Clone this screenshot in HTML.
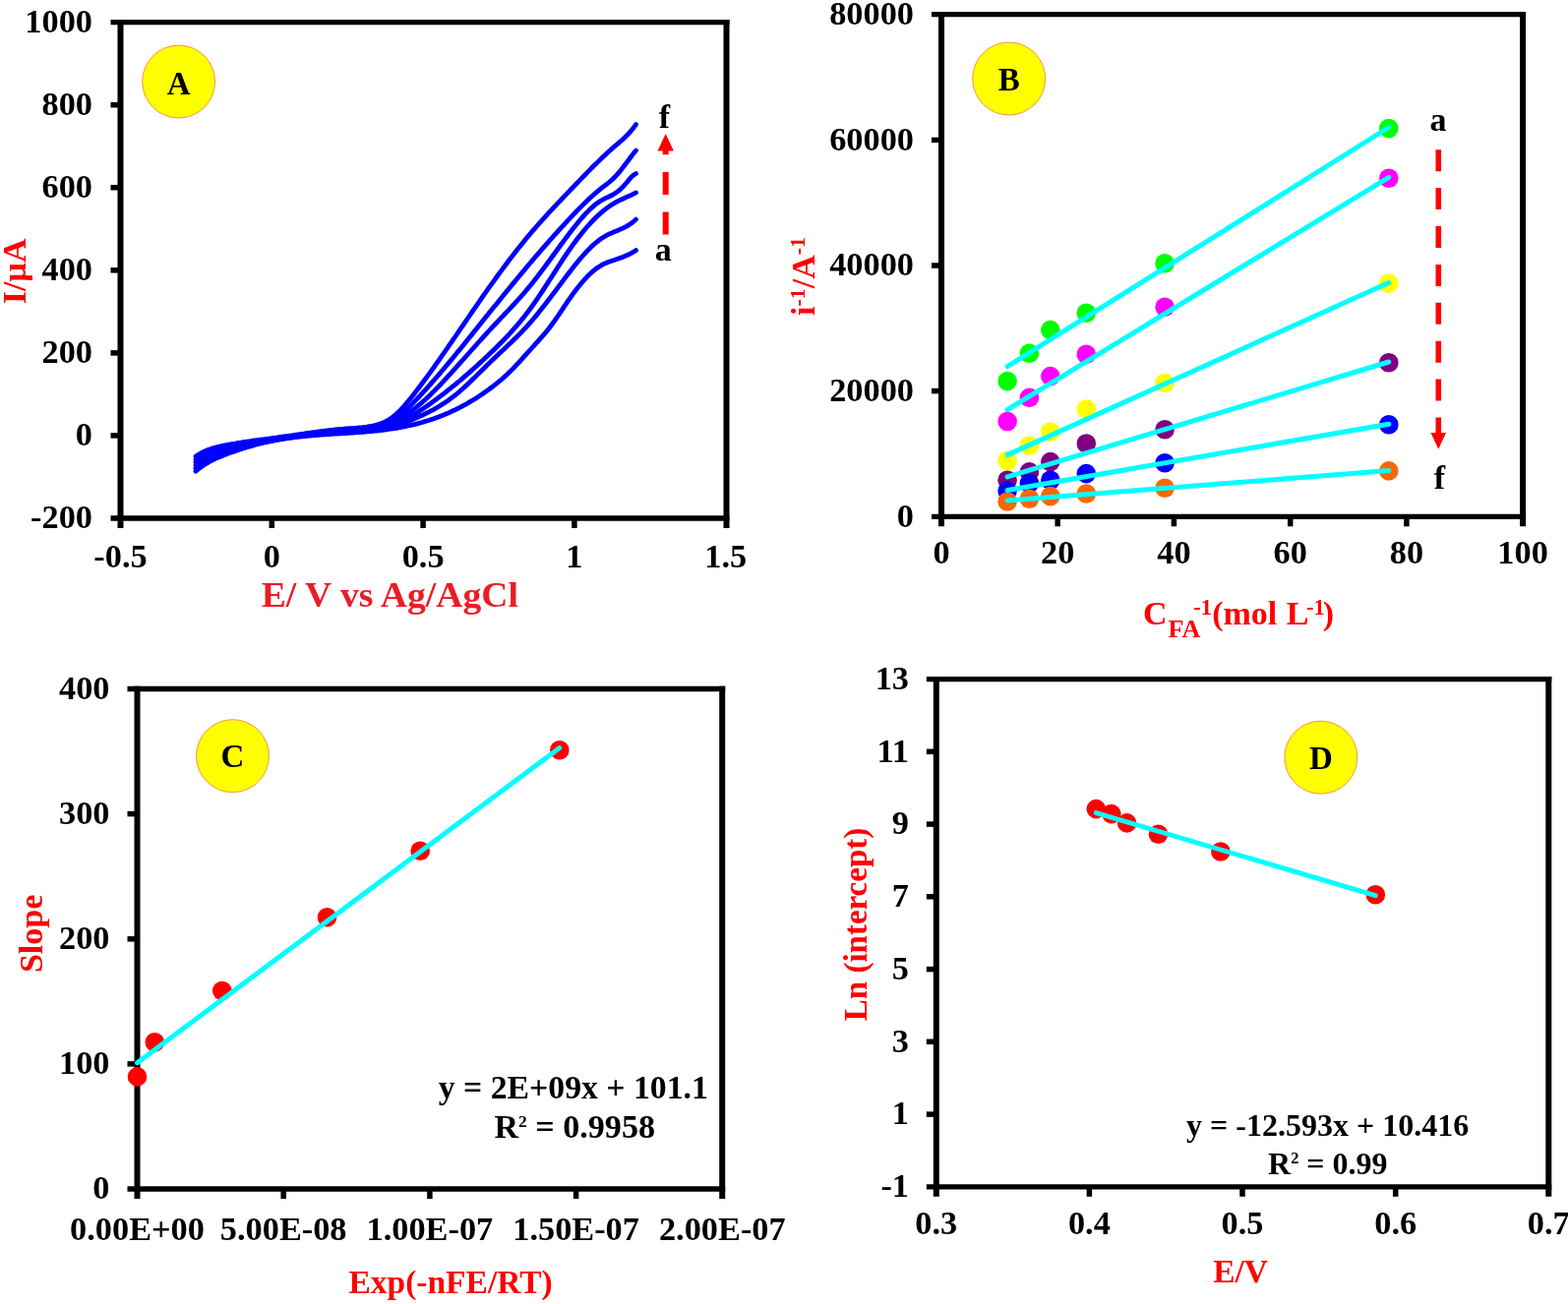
<!DOCTYPE html>
<html><head><meta charset="utf-8"><title>Figure</title>
<style>html,body{margin:0;padding:0;background:#fff;}svg{display:block;}</style></head>
<body><svg width="1594" height="1326" viewBox="0 0 1594 1326" font-family="'Liberation Serif', 'Times New Roman', serif" font-weight="bold">
<rect width="1594" height="1326" fill="#fff"/>
<line x1="112.5" y1="22.7" x2="741.5" y2="22.7" stroke="#000" stroke-width="5.3"/>
<line x1="112.5" y1="527" x2="741.5" y2="527" stroke="#000" stroke-width="5.3"/>
<line x1="122.5" y1="20.05" x2="122.5" y2="537" stroke="#000" stroke-width="6.0"/>
<line x1="738.5" y1="20.05" x2="738.5" y2="537" stroke="#000" stroke-width="6.0"/>
<line x1="276.3" y1="527" x2="276.3" y2="537" stroke="#000" stroke-width="5.5"/>
<line x1="430.1" y1="527" x2="430.1" y2="537" stroke="#000" stroke-width="5.5"/>
<line x1="583.9" y1="527" x2="583.9" y2="537" stroke="#000" stroke-width="5.5"/>
<line x1="112.5" y1="442.9" x2="122.5" y2="442.9" stroke="#000" stroke-width="5.5"/>
<line x1="112.5" y1="358.9" x2="122.5" y2="358.9" stroke="#000" stroke-width="5.5"/>
<line x1="112.5" y1="274.8" x2="122.5" y2="274.8" stroke="#000" stroke-width="5.5"/>
<line x1="112.5" y1="190.7" x2="122.5" y2="190.7" stroke="#000" stroke-width="5.5"/>
<line x1="112.5" y1="106.7" x2="122.5" y2="106.7" stroke="#000" stroke-width="5.5"/>
<text x="94" y="537.3" text-anchor="end" font-size="33" transform="matrix(1.04,0,0,1,-3.76,0)">-200</text>
<text x="94" y="453.2" text-anchor="end" font-size="33" transform="matrix(1.04,0,0,1,-3.76,0)">0</text>
<text x="94" y="369.2" text-anchor="end" font-size="33" transform="matrix(1.04,0,0,1,-3.76,0)">200</text>
<text x="94" y="285.1" text-anchor="end" font-size="33" transform="matrix(1.04,0,0,1,-3.76,0)">400</text>
<text x="94" y="201.0" text-anchor="end" font-size="33" transform="matrix(1.04,0,0,1,-3.76,0)">600</text>
<text x="94" y="117.0" text-anchor="end" font-size="33" transform="matrix(1.04,0,0,1,-3.76,0)">800</text>
<text x="94" y="32.9" text-anchor="end" font-size="33" transform="matrix(1.04,0,0,1,-3.76,0)">1000</text>
<text x="122.5" y="577" text-anchor="middle" font-size="33" transform="matrix(1.04,0,0,1,-4.90,0)">-0.5</text>
<text x="276.3" y="577" text-anchor="middle" font-size="33" transform="matrix(1.04,0,0,1,-11.05,0)">0</text>
<text x="430.1" y="577" text-anchor="middle" font-size="33" transform="matrix(1.04,0,0,1,-17.20,0)">0.5</text>
<text x="583.9" y="577" text-anchor="middle" font-size="33" transform="matrix(1.04,0,0,1,-23.36,0)">1</text>
<text x="737.7" y="577" text-anchor="middle" font-size="33" transform="matrix(1.04,0,0,1,-29.51,0)">1.5</text>
<path d="M199.0,464.1 L201.0,462.7 L203.0,461.5 L205.0,460.4 L207.0,459.4 L209.0,458.5 L211.0,457.6 L213.0,456.9 L215.0,456.2 L217.0,455.6 L219.0,455.0 L221.0,454.5 L223.0,454.0 L225.0,453.6 L227.0,453.2 L229.0,452.8 L231.0,452.4 L233.0,452.0 L235.0,451.7 L237.0,451.3 L239.0,451.0 L241.0,450.6 L243.0,450.3 L245.0,450.0 L247.0,449.7 L249.0,449.4 L251.0,449.1 L253.0,448.8 L255.0,448.5 L257.0,448.2 L259.0,447.9 L261.0,447.6 L263.0,447.4 L265.0,447.1 L267.0,446.8 L269.0,446.6 L271.0,446.3 L273.0,446.1 L275.0,445.8 L277.0,445.5 L279.0,445.3 L281.0,445.0 L283.0,444.7 L285.0,444.5 L287.0,444.2 L289.0,443.9 L291.0,443.6 L293.0,443.4 L295.0,443.1 L297.0,442.8 L299.0,442.5 L301.0,442.2 L303.0,441.9 L305.0,441.6 L307.0,441.3 L309.0,441.0 L311.0,440.7 L313.0,440.5 L315.0,440.2 L317.0,439.9 L319.0,439.6 L321.0,439.3 L323.0,439.0 L325.0,438.8 L327.0,438.5 L329.0,438.3 L331.0,438.0 L333.0,437.8 L335.0,437.5 L337.0,437.3 L339.0,437.1 L341.0,436.9 L343.0,436.7 L345.0,436.5 L347.0,436.3 L349.0,436.2 L351.0,436.0 L353.0,435.9 L355.0,435.7 L357.0,435.6 L359.0,435.5 L361.0,435.3 L363.0,435.2 L365.0,435.0 L367.0,434.8 L369.0,434.6 L371.0,434.3 L373.0,434.1 L375.0,433.7 L377.0,433.4 L379.0,433.0 L381.0,432.5 L383.0,432.0 L385.0,431.4 L387.0,430.7 L389.0,430.0 L391.0,429.1 L393.0,428.1 L395.0,427.0 L397.0,425.7 L399.0,424.3 L401.0,422.7 L403.0,421.0 L405.0,419.1 L407.0,417.1 L409.0,415.0 L411.0,412.8 L413.0,410.4 L415.0,408.0 L417.0,405.6 L419.0,403.0 L421.0,400.5 L423.0,397.9 L425.0,395.3 L427.0,392.7 L429.0,390.0 L431.0,387.3 L433.0,384.6 L435.0,381.9 L437.0,379.1 L439.0,376.3 L441.0,373.6 L443.0,370.7 L445.0,367.9 L447.0,365.1 L449.0,362.2 L451.0,359.4 L453.0,356.5 L455.0,353.6 L457.0,350.7 L459.0,347.8 L461.0,344.9 L463.0,342.0 L465.0,339.1 L467.0,336.1 L469.0,333.2 L471.0,330.3 L473.0,327.4 L475.0,324.5 L477.0,321.5 L479.0,318.6 L481.0,315.7 L483.0,312.8 L485.0,309.9 L487.0,307.0 L489.0,304.1 L491.0,301.2 L493.0,298.4 L495.0,295.5 L497.0,292.7 L499.0,289.9 L501.0,287.1 L503.0,284.3 L505.0,281.5 L507.0,278.8 L509.0,276.1 L511.0,273.4 L513.0,270.7 L515.0,268.0 L517.0,265.3 L519.0,262.7 L521.0,260.1 L523.0,257.5 L525.0,255.0 L527.0,252.4 L529.0,249.9 L531.0,247.4 L533.0,245.0 L535.0,242.5 L537.0,240.1 L539.0,237.7 L541.0,235.4 L543.0,233.1 L545.0,230.8 L547.0,228.5 L549.0,226.2 L551.0,224.0 L553.0,221.8 L555.0,219.6 L557.0,217.4 L559.0,215.2 L561.0,213.1 L563.0,211.0 L565.0,208.8 L567.0,206.7 L569.0,204.6 L571.0,202.5 L573.0,200.4 L575.0,198.3 L577.0,196.2 L579.0,194.1 L581.0,192.0 L583.0,189.9 L585.0,187.8 L587.0,185.8 L589.0,183.7 L591.0,181.6 L593.0,179.5 L595.0,177.5 L597.0,175.4 L599.0,173.4 L601.0,171.3 L603.0,169.3 L605.0,167.3 L607.0,165.4 L609.0,163.4 L611.0,161.5 L613.0,159.6 L615.0,157.7 L617.0,155.8 L619.0,154.0 L621.0,152.2 L623.0,150.4 L625.0,148.7 L627.0,147.0 L629.0,145.3 L631.0,143.5 L633.0,141.8 L635.0,139.9 L637.0,137.9 L639.0,135.9 L641.0,133.6 L643.0,131.2 L645.0,128.6 L646.5,126.6" fill="none" stroke="#0000FF" stroke-width="4.8" stroke-linecap="round" stroke-linejoin="round"/>
<path d="M199.0,467.1 L201.0,465.7 L203.0,464.4 L205.0,463.2 L207.0,462.1 L209.0,461.1 L211.0,460.2 L213.0,459.4 L215.0,458.6 L217.0,457.9 L219.0,457.3 L221.0,456.7 L223.0,456.2 L225.0,455.6 L227.0,455.2 L229.0,454.7 L231.0,454.2 L233.0,453.8 L235.0,453.3 L237.0,452.9 L239.0,452.5 L241.0,452.1 L243.0,451.7 L245.0,451.3 L247.0,450.9 L249.0,450.6 L251.0,450.2 L253.0,449.9 L255.0,449.5 L257.0,449.2 L259.0,448.9 L261.0,448.5 L263.0,448.2 L265.0,447.9 L267.0,447.6 L269.0,447.3 L271.0,447.0 L273.0,446.7 L275.0,446.4 L277.0,446.1 L279.0,445.8 L281.0,445.5 L283.0,445.3 L285.0,445.0 L287.0,444.7 L289.0,444.4 L291.0,444.1 L293.0,443.9 L295.0,443.6 L297.0,443.3 L299.0,443.0 L301.0,442.7 L303.0,442.5 L305.0,442.2 L307.0,441.9 L309.0,441.6 L311.0,441.4 L313.0,441.1 L315.0,440.8 L317.0,440.6 L319.0,440.3 L321.0,440.0 L323.0,439.8 L325.0,439.5 L327.0,439.3 L329.0,439.1 L331.0,438.8 L333.0,438.6 L335.0,438.4 L337.0,438.1 L339.0,437.9 L341.0,437.7 L343.0,437.5 L345.0,437.3 L347.0,437.1 L349.0,437.0 L351.0,436.8 L353.0,436.6 L355.0,436.4 L357.0,436.3 L359.0,436.1 L361.0,436.0 L363.0,435.8 L365.0,435.6 L367.0,435.4 L369.0,435.2 L371.0,435.0 L373.0,434.8 L375.0,434.5 L377.0,434.3 L379.0,434.0 L381.0,433.6 L383.0,433.3 L385.0,432.9 L387.0,432.4 L389.0,431.9 L391.0,431.3 L393.0,430.6 L395.0,429.8 L397.0,428.9 L399.0,427.8 L401.0,426.6 L403.0,425.2 L405.0,423.8 L407.0,422.2 L409.0,420.5 L411.0,418.7 L413.0,416.8 L415.0,414.9 L417.0,412.9 L419.0,410.8 L421.0,408.7 L423.0,406.6 L425.0,404.5 L427.0,402.4 L429.0,400.2 L431.0,398.0 L433.0,395.8 L435.0,393.6 L437.0,391.4 L439.0,389.1 L441.0,386.8 L443.0,384.5 L445.0,382.2 L447.0,379.9 L449.0,377.5 L451.0,375.2 L453.0,372.8 L455.0,370.4 L457.0,368.0 L459.0,365.6 L461.0,363.2 L463.0,360.8 L465.0,358.3 L467.0,355.9 L469.0,353.4 L471.0,351.0 L473.0,348.5 L475.0,346.0 L477.0,343.5 L479.0,341.1 L481.0,338.6 L483.0,336.1 L485.0,333.6 L487.0,331.1 L489.0,328.6 L491.0,326.1 L493.0,323.6 L495.0,321.1 L497.0,318.6 L499.0,316.1 L501.0,313.6 L503.0,311.2 L505.0,308.7 L507.0,306.2 L509.0,303.7 L511.0,301.3 L513.0,298.8 L515.0,296.4 L517.0,293.9 L519.0,291.5 L521.0,289.0 L523.0,286.6 L525.0,284.2 L527.0,281.8 L529.0,279.4 L531.0,277.0 L533.0,274.6 L535.0,272.2 L537.0,269.8 L539.0,267.5 L541.0,265.1 L543.0,262.7 L545.0,260.4 L547.0,258.1 L549.0,255.8 L551.0,253.4 L553.0,251.1 L555.0,248.9 L557.0,246.6 L559.0,244.3 L561.0,242.1 L563.0,239.8 L565.0,237.6 L567.0,235.4 L569.0,233.2 L571.0,231.0 L573.0,228.8 L575.0,226.6 L577.0,224.5 L579.0,222.3 L581.0,220.2 L583.0,218.1 L585.0,216.0 L587.0,213.9 L589.0,211.9 L591.0,209.9 L593.0,207.9 L595.0,205.9 L597.0,204.0 L599.0,202.1 L601.0,200.3 L603.0,198.5 L605.0,196.7 L607.0,195.0 L609.0,193.3 L611.0,191.7 L613.0,190.1 L615.0,188.6 L617.0,187.1 L619.0,185.5 L621.0,183.8 L623.0,182.0 L625.0,180.0 L627.0,177.9 L629.0,175.6 L631.0,173.2 L633.0,170.6 L635.0,168.0 L637.0,165.4 L639.0,162.7 L641.0,160.0 L643.0,157.4 L645.0,154.8 L646.5,153.0" fill="none" stroke="#0000FF" stroke-width="4.8" stroke-linecap="round" stroke-linejoin="round"/>
<path d="M199.0,470.1 L201.0,468.7 L203.0,467.3 L205.0,466.0 L207.0,464.9 L209.0,463.8 L211.0,462.8 L213.0,461.9 L215.0,461.0 L217.0,460.2 L219.0,459.5 L221.0,458.8 L223.0,458.1 L225.0,457.5 L227.0,457.0 L229.0,456.4 L231.0,455.8 L233.0,455.3 L235.0,454.8 L237.0,454.3 L239.0,453.9 L241.0,453.4 L243.0,453.0 L245.0,452.5 L247.0,452.1 L249.0,451.7 L251.0,451.3 L253.0,450.9 L255.0,450.6 L257.0,450.2 L259.0,449.9 L261.0,449.5 L263.0,449.2 L265.0,448.9 L267.0,448.5 L269.0,448.2 L271.0,447.9 L273.0,447.6 L275.0,447.3 L277.0,447.0 L279.0,446.7 L281.0,446.4 L283.0,446.1 L285.0,445.8 L287.0,445.5 L289.0,445.1 L291.0,444.8 L293.0,444.5 L295.0,444.2 L297.0,443.9 L299.0,443.6 L301.0,443.2 L303.0,442.9 L305.0,442.6 L307.0,442.3 L309.0,442.0 L311.0,441.7 L313.0,441.4 L315.0,441.1 L317.0,440.8 L319.0,440.5 L321.0,440.2 L323.0,439.9 L325.0,439.7 L327.0,439.4 L329.0,439.2 L331.0,439.0 L333.0,438.7 L335.0,438.5 L337.0,438.4 L339.0,438.2 L341.0,438.0 L343.0,437.9 L345.0,437.8 L347.0,437.6 L349.0,437.5 L351.0,437.5 L353.0,437.4 L355.0,437.4 L357.0,437.3 L359.0,437.3 L361.0,437.3 L363.0,437.2 L365.0,437.2 L367.0,437.1 L369.0,437.0 L371.0,436.8 L373.0,436.7 L375.0,436.4 L377.0,436.2 L379.0,435.9 L381.0,435.5 L383.0,435.1 L385.0,434.6 L387.0,434.1 L389.0,433.5 L391.0,432.8 L393.0,432.1 L395.0,431.3 L397.0,430.5 L399.0,429.6 L401.0,428.7 L403.0,427.6 L405.0,426.6 L407.0,425.5 L409.0,424.3 L411.0,423.0 L413.0,421.7 L415.0,420.4 L417.0,419.0 L419.0,417.5 L421.0,416.0 L423.0,414.4 L425.0,412.7 L427.0,411.0 L429.0,409.3 L431.0,407.5 L433.0,405.7 L435.0,403.8 L437.0,401.9 L439.0,399.9 L441.0,397.9 L443.0,395.9 L445.0,393.9 L447.0,391.8 L449.0,389.7 L451.0,387.5 L453.0,385.4 L455.0,383.2 L457.0,381.0 L459.0,378.8 L461.0,376.6 L463.0,374.4 L465.0,372.2 L467.0,369.9 L469.0,367.7 L471.0,365.5 L473.0,363.2 L475.0,361.0 L477.0,358.7 L479.0,356.5 L481.0,354.2 L483.0,352.0 L485.0,349.7 L487.0,347.5 L489.0,345.3 L491.0,343.1 L493.0,340.9 L495.0,338.7 L497.0,336.5 L499.0,334.3 L501.0,332.2 L503.0,330.1 L505.0,328.0 L507.0,325.8 L509.0,323.7 L511.0,321.6 L513.0,319.5 L515.0,317.4 L517.0,315.3 L519.0,313.2 L521.0,311.0 L523.0,308.9 L525.0,306.7 L527.0,304.5 L529.0,302.2 L531.0,300.0 L533.0,297.7 L535.0,295.3 L537.0,292.9 L539.0,290.5 L541.0,288.1 L543.0,285.5 L545.0,283.0 L547.0,280.4 L549.0,277.8 L551.0,275.1 L553.0,272.4 L555.0,269.7 L557.0,267.0 L559.0,264.3 L561.0,261.5 L563.0,258.8 L565.0,256.0 L567.0,253.3 L569.0,250.5 L571.0,247.8 L573.0,245.1 L575.0,242.4 L577.0,239.7 L579.0,237.1 L581.0,234.5 L583.0,231.9 L585.0,229.4 L587.0,226.9 L589.0,224.5 L591.0,222.2 L593.0,219.9 L595.0,217.7 L597.0,215.6 L599.0,213.6 L601.0,211.7 L603.0,209.9 L605.0,208.2 L607.0,206.7 L609.0,205.3 L611.0,204.0 L613.0,202.9 L615.0,201.8 L617.0,200.9 L619.0,200.0 L621.0,199.0 L623.0,198.0 L625.0,196.8 L627.0,195.4 L629.0,193.8 L631.0,192.1 L633.0,190.2 L635.0,188.0 L637.0,185.7 L639.0,183.2 L641.0,180.9 L643.0,178.9 L645.0,177.3 L646.5,176.6" fill="none" stroke="#0000FF" stroke-width="4.8" stroke-linecap="round" stroke-linejoin="round"/>
<path d="M199.0,473.1 L201.0,471.6 L203.0,470.2 L205.0,468.8 L207.0,467.6 L209.0,466.5 L211.0,465.4 L213.0,464.4 L215.0,463.5 L217.0,462.6 L219.0,461.8 L221.0,461.1 L223.0,460.4 L225.0,459.7 L227.0,459.1 L229.0,458.4 L231.0,457.8 L233.0,457.2 L235.0,456.6 L237.0,456.0 L239.0,455.5 L241.0,455.0 L243.0,454.4 L245.0,453.9 L247.0,453.4 L249.0,452.9 L251.0,452.4 L253.0,452.0 L255.0,451.5 L257.0,451.1 L259.0,450.7 L261.0,450.2 L263.0,449.8 L265.0,449.4 L267.0,449.1 L269.0,448.7 L271.0,448.3 L273.0,448.0 L275.0,447.6 L277.0,447.3 L279.0,446.9 L281.0,446.6 L283.0,446.3 L285.0,446.0 L287.0,445.7 L289.0,445.4 L291.0,445.1 L293.0,444.8 L295.0,444.5 L297.0,444.3 L299.0,444.0 L301.0,443.7 L303.0,443.5 L305.0,443.2 L307.0,443.0 L309.0,442.7 L311.0,442.5 L313.0,442.3 L315.0,442.0 L317.0,441.8 L319.0,441.6 L321.0,441.4 L323.0,441.2 L325.0,441.0 L327.0,440.8 L329.0,440.6 L331.0,440.4 L333.0,440.2 L335.0,440.0 L337.0,439.8 L339.0,439.6 L341.0,439.4 L343.0,439.2 L345.0,439.0 L347.0,438.8 L349.0,438.7 L351.0,438.5 L353.0,438.3 L355.0,438.1 L357.0,437.9 L359.0,437.8 L361.0,437.6 L363.0,437.4 L365.0,437.2 L367.0,437.1 L369.0,436.9 L371.0,436.7 L373.0,436.5 L375.0,436.4 L377.0,436.2 L379.0,436.0 L381.0,435.8 L383.0,435.7 L385.0,435.5 L387.0,435.2 L389.0,435.0 L391.0,434.7 L393.0,434.3 L395.0,433.9 L397.0,433.4 L399.0,432.8 L401.0,432.1 L403.0,431.4 L405.0,430.5 L407.0,429.6 L409.0,428.6 L411.0,427.5 L413.0,426.4 L415.0,425.2 L417.0,424.0 L419.0,422.8 L421.0,421.5 L423.0,420.3 L425.0,419.0 L427.0,417.6 L429.0,416.3 L431.0,414.9 L433.0,413.6 L435.0,412.2 L437.0,410.8 L439.0,409.3 L441.0,407.9 L443.0,406.4 L445.0,404.9 L447.0,403.4 L449.0,401.9 L451.0,400.4 L453.0,398.8 L455.0,397.2 L457.0,395.7 L459.0,394.0 L461.0,392.4 L463.0,390.8 L465.0,389.1 L467.0,387.5 L469.0,385.8 L471.0,384.1 L473.0,382.3 L475.0,380.6 L477.0,378.9 L479.0,377.1 L481.0,375.3 L483.0,373.5 L485.0,371.7 L487.0,369.9 L489.0,368.0 L491.0,366.2 L493.0,364.3 L495.0,362.4 L497.0,360.5 L499.0,358.6 L501.0,356.7 L503.0,354.7 L505.0,352.8 L507.0,350.8 L509.0,348.8 L511.0,346.7 L513.0,344.7 L515.0,342.6 L517.0,340.5 L519.0,338.3 L521.0,336.1 L523.0,333.8 L525.0,331.6 L527.0,329.2 L529.0,326.8 L531.0,324.4 L533.0,321.9 L535.0,319.3 L537.0,316.7 L539.0,314.0 L541.0,311.3 L543.0,308.4 L545.0,305.6 L547.0,302.6 L549.0,299.7 L551.0,296.6 L553.0,293.6 L555.0,290.5 L557.0,287.4 L559.0,284.3 L561.0,281.2 L563.0,278.1 L565.0,274.9 L567.0,271.8 L569.0,268.7 L571.0,265.7 L573.0,262.7 L575.0,259.7 L577.0,256.7 L579.0,253.8 L581.0,251.0 L583.0,248.2 L585.0,245.5 L587.0,242.8 L589.0,240.2 L591.0,237.7 L593.0,235.2 L595.0,232.8 L597.0,230.5 L599.0,228.3 L601.0,226.1 L603.0,224.0 L605.0,222.0 L607.0,220.0 L609.0,218.2 L611.0,216.4 L613.0,214.7 L615.0,213.1 L617.0,211.5 L619.0,210.1 L621.0,208.7 L623.0,207.5 L625.0,206.3 L627.0,205.2 L629.0,204.2 L631.0,203.2 L633.0,202.3 L635.0,201.3 L637.0,200.4 L639.0,199.5 L641.0,198.6 L643.0,197.7 L645.0,196.7 L646.5,195.9" fill="none" stroke="#0000FF" stroke-width="4.8" stroke-linecap="round" stroke-linejoin="round"/>
<path d="M199.0,476.2 L201.0,474.6 L203.0,473.1 L205.0,471.7 L207.0,470.4 L209.0,469.1 L211.0,468.0 L213.0,466.9 L215.0,465.9 L217.0,465.0 L219.0,464.1 L221.0,463.3 L223.0,462.5 L225.0,461.7 L227.0,461.0 L229.0,460.3 L231.0,459.6 L233.0,458.9 L235.0,458.2 L237.0,457.6 L239.0,457.0 L241.0,456.4 L243.0,455.8 L245.0,455.2 L247.0,454.6 L249.0,454.1 L251.0,453.6 L253.0,453.0 L255.0,452.5 L257.0,452.1 L259.0,451.6 L261.0,451.1 L263.0,450.7 L265.0,450.2 L267.0,449.8 L269.0,449.4 L271.0,449.0 L273.0,448.6 L275.0,448.2 L277.0,447.9 L279.0,447.5 L281.0,447.2 L283.0,446.8 L285.0,446.5 L287.0,446.2 L289.0,445.9 L291.0,445.6 L293.0,445.3 L295.0,445.0 L297.0,444.8 L299.0,444.5 L301.0,444.2 L303.0,444.0 L305.0,443.7 L307.0,443.5 L309.0,443.3 L311.0,443.1 L313.0,442.8 L315.0,442.6 L317.0,442.4 L319.0,442.2 L321.0,442.0 L323.0,441.8 L325.0,441.6 L327.0,441.5 L329.0,441.3 L331.0,441.1 L333.0,440.9 L335.0,440.7 L337.0,440.6 L339.0,440.4 L341.0,440.2 L343.0,440.1 L345.0,439.9 L347.0,439.7 L349.0,439.6 L351.0,439.4 L353.0,439.2 L355.0,439.1 L357.0,438.9 L359.0,438.7 L361.0,438.6 L363.0,438.4 L365.0,438.2 L367.0,438.0 L369.0,437.8 L371.0,437.7 L373.0,437.5 L375.0,437.3 L377.0,437.1 L379.0,436.9 L381.0,436.7 L383.0,436.5 L385.0,436.3 L387.0,436.0 L389.0,435.8 L391.0,435.5 L393.0,435.1 L395.0,434.8 L397.0,434.4 L399.0,433.9 L401.0,433.4 L403.0,432.8 L405.0,432.2 L407.0,431.5 L409.0,430.8 L411.0,430.0 L413.0,429.2 L415.0,428.4 L417.0,427.6 L419.0,426.7 L421.0,425.8 L423.0,425.0 L425.0,424.1 L427.0,423.2 L429.0,422.3 L431.0,421.3 L433.0,420.4 L435.0,419.4 L437.0,418.4 L439.0,417.3 L441.0,416.3 L443.0,415.2 L445.0,414.0 L447.0,412.8 L449.0,411.6 L451.0,410.3 L453.0,409.0 L455.0,407.6 L457.0,406.2 L459.0,404.7 L461.0,403.2 L463.0,401.6 L465.0,400.0 L467.0,398.3 L469.0,396.5 L471.0,394.7 L473.0,392.9 L475.0,391.1 L477.0,389.2 L479.0,387.3 L481.0,385.3 L483.0,383.4 L485.0,381.4 L487.0,379.4 L489.0,377.5 L491.0,375.5 L493.0,373.5 L495.0,371.5 L497.0,369.6 L499.0,367.6 L501.0,365.7 L503.0,363.8 L505.0,361.9 L507.0,360.0 L509.0,358.1 L511.0,356.3 L513.0,354.4 L515.0,352.5 L517.0,350.6 L519.0,348.7 L521.0,346.8 L523.0,344.8 L525.0,342.9 L527.0,340.9 L529.0,338.9 L531.0,336.8 L533.0,334.7 L535.0,332.6 L537.0,330.4 L539.0,328.1 L541.0,325.8 L543.0,323.5 L545.0,321.1 L547.0,318.6 L549.0,316.1 L551.0,313.6 L553.0,311.1 L555.0,308.5 L557.0,305.8 L559.0,303.2 L561.0,300.6 L563.0,297.9 L565.0,295.2 L567.0,292.6 L569.0,289.9 L571.0,287.2 L573.0,284.6 L575.0,281.9 L577.0,279.3 L579.0,276.7 L581.0,274.1 L583.0,271.6 L585.0,269.1 L587.0,266.6 L589.0,264.2 L591.0,261.8 L593.0,259.5 L595.0,257.3 L597.0,255.2 L599.0,253.1 L601.0,251.1 L603.0,249.2 L605.0,247.5 L607.0,245.8 L609.0,244.2 L611.0,242.8 L613.0,241.5 L615.0,240.3 L617.0,239.2 L619.0,238.2 L621.0,237.2 L623.0,236.4 L625.0,235.5 L627.0,234.7 L629.0,233.9 L631.0,233.0 L633.0,232.1 L635.0,231.1 L637.0,230.1 L639.0,228.9 L641.0,227.6 L643.0,226.1 L645.0,224.5 L646.5,223.1" fill="none" stroke="#0000FF" stroke-width="4.8" stroke-linecap="round" stroke-linejoin="round"/>
<path d="M199.0,479.2 L201.0,477.5 L203.0,475.9 L205.0,474.4 L207.0,473.1 L209.0,471.8 L211.0,470.6 L213.0,469.4 L215.0,468.4 L217.0,467.4 L219.0,466.4 L221.0,465.5 L223.0,464.7 L225.0,463.9 L227.0,463.1 L229.0,462.3 L231.0,461.5 L233.0,460.8 L235.0,460.1 L237.0,459.4 L239.0,458.7 L241.0,458.0 L243.0,457.3 L245.0,456.7 L247.0,456.0 L249.0,455.4 L251.0,454.8 L253.0,454.2 L255.0,453.6 L257.0,453.1 L259.0,452.5 L261.0,452.0 L263.0,451.5 L265.0,451.0 L267.0,450.5 L269.0,450.0 L271.0,449.6 L273.0,449.1 L275.0,448.7 L277.0,448.3 L279.0,447.9 L281.0,447.5 L283.0,447.2 L285.0,446.8 L287.0,446.5 L289.0,446.1 L291.0,445.8 L293.0,445.5 L295.0,445.2 L297.0,445.0 L299.0,444.7 L301.0,444.5 L303.0,444.2 L305.0,444.0 L307.0,443.8 L309.0,443.6 L311.0,443.4 L313.0,443.2 L315.0,443.0 L317.0,442.8 L319.0,442.6 L321.0,442.5 L323.0,442.3 L325.0,442.2 L327.0,442.0 L329.0,441.9 L331.0,441.8 L333.0,441.6 L335.0,441.5 L337.0,441.4 L339.0,441.2 L341.0,441.1 L343.0,441.0 L345.0,440.9 L347.0,440.8 L349.0,440.6 L351.0,440.5 L353.0,440.4 L355.0,440.3 L357.0,440.1 L359.0,440.0 L361.0,439.9 L363.0,439.7 L365.0,439.6 L367.0,439.4 L369.0,439.3 L371.0,439.1 L373.0,438.9 L375.0,438.8 L377.0,438.6 L379.0,438.4 L381.0,438.2 L383.0,438.0 L385.0,437.8 L387.0,437.5 L389.0,437.3 L391.0,437.0 L393.0,436.8 L395.0,436.5 L397.0,436.2 L399.0,435.9 L401.0,435.6 L403.0,435.3 L405.0,434.9 L407.0,434.6 L409.0,434.2 L411.0,433.8 L413.0,433.4 L415.0,433.0 L417.0,432.5 L419.0,432.1 L421.0,431.6 L423.0,431.1 L425.0,430.6 L427.0,430.0 L429.0,429.5 L431.0,428.9 L433.0,428.3 L435.0,427.7 L437.0,427.0 L439.0,426.4 L441.0,425.7 L443.0,425.0 L445.0,424.3 L447.0,423.5 L449.0,422.7 L451.0,421.9 L453.0,421.1 L455.0,420.2 L457.0,419.4 L459.0,418.4 L461.0,417.5 L463.0,416.6 L465.0,415.6 L467.0,414.6 L469.0,413.5 L471.0,412.5 L473.0,411.4 L475.0,410.3 L477.0,409.1 L479.0,407.9 L481.0,406.7 L483.0,405.5 L485.0,404.2 L487.0,402.9 L489.0,401.6 L491.0,400.2 L493.0,398.8 L495.0,397.4 L497.0,396.0 L499.0,394.5 L501.0,393.0 L503.0,391.4 L505.0,389.8 L507.0,388.2 L509.0,386.5 L511.0,384.8 L513.0,383.0 L515.0,381.2 L517.0,379.3 L519.0,377.4 L521.0,375.4 L523.0,373.3 L525.0,371.2 L527.0,369.1 L529.0,366.9 L531.0,364.7 L533.0,362.4 L535.0,360.2 L537.0,358.0 L539.0,355.7 L541.0,353.5 L543.0,351.3 L545.0,349.1 L547.0,346.9 L549.0,344.7 L551.0,342.4 L553.0,340.1 L555.0,337.7 L557.0,335.2 L559.0,332.7 L561.0,330.0 L563.0,327.3 L565.0,324.4 L567.0,321.5 L569.0,318.6 L571.0,315.6 L573.0,312.6 L575.0,309.7 L577.0,306.7 L579.0,303.8 L581.0,301.0 L583.0,298.2 L585.0,295.5 L587.0,292.9 L589.0,290.4 L591.0,288.0 L593.0,285.7 L595.0,283.4 L597.0,281.3 L599.0,279.3 L601.0,277.4 L603.0,275.7 L605.0,274.0 L607.0,272.5 L609.0,271.2 L611.0,269.9 L613.0,268.8 L615.0,267.9 L617.0,267.0 L619.0,266.3 L621.0,265.6 L623.0,264.9 L625.0,264.2 L627.0,263.5 L629.0,262.9 L631.0,262.1 L633.0,261.4 L635.0,260.6 L637.0,259.7 L639.0,258.8 L641.0,257.8 L643.0,256.7 L645.0,255.5 L646.5,254.6" fill="none" stroke="#0000FF" stroke-width="4.8" stroke-linecap="round" stroke-linejoin="round"/>
<line x1="676.7" y1="238.5" x2="676.7" y2="153" stroke="#FF0000" stroke-width="6" stroke-dasharray="23 17.6"/>
<polygon points="676.7,136 668.5,153.5 684.9,153.5" fill="#FF0000"/>
<text x="675.3" y="130" text-anchor="middle" font-size="34">f</text>
<text x="674.3" y="264.5" text-anchor="middle" font-size="34">a</text>
<circle cx="181.65" cy="83" r="37" fill="#FFFF00" stroke="#F79646" stroke-width="1"/>
<text x="181.65" y="96" text-anchor="middle" font-size="33">A</text>
<text transform="translate(26,275.9) rotate(-90)" text-anchor="middle" font-size="34" fill="#FF0000">I/µA</text>
<text x="396.3" y="616.8" text-anchor="middle" font-size="36" fill="#ED1C24" textLength="261.3" lengthAdjust="spacingAndGlyphs">E/ V vs Ag/AgCl</text>
<line x1="947" y1="14.7" x2="1551.1" y2="14.7" stroke="#000" stroke-width="5.3"/>
<line x1="947" y1="525.3" x2="1551.1" y2="525.3" stroke="#000" stroke-width="5.3"/>
<line x1="957.0" y1="12.049999999999999" x2="957" y2="535.3" stroke="#000" stroke-width="6.0"/>
<line x1="1548.1" y1="12.049999999999999" x2="1548.1" y2="535.3" stroke="#000" stroke-width="6.0"/>
<line x1="1075.2" y1="525.3" x2="1075.2" y2="535.3" stroke="#000" stroke-width="5.5"/>
<line x1="1193.4" y1="525.3" x2="1193.4" y2="535.3" stroke="#000" stroke-width="5.5"/>
<line x1="1311.7" y1="525.3" x2="1311.7" y2="535.3" stroke="#000" stroke-width="5.5"/>
<line x1="1429.9" y1="525.3" x2="1429.9" y2="535.3" stroke="#000" stroke-width="5.5"/>
<line x1="947" y1="397.6" x2="957" y2="397.6" stroke="#000" stroke-width="5.5"/>
<line x1="947" y1="270.0" x2="957" y2="270.0" stroke="#000" stroke-width="5.5"/>
<line x1="947" y1="142.4" x2="957" y2="142.4" stroke="#000" stroke-width="5.5"/>
<text x="929" y="535.6" text-anchor="end" font-size="33" transform="matrix(1.04,0,0,1,-37.16,0)">0</text>
<text x="929" y="407.9" text-anchor="end" font-size="33" transform="matrix(1.04,0,0,1,-37.16,0)">20000</text>
<text x="929" y="280.3" text-anchor="end" font-size="33" transform="matrix(1.04,0,0,1,-37.16,0)">40000</text>
<text x="929" y="152.7" text-anchor="end" font-size="33" transform="matrix(1.04,0,0,1,-37.16,0)">60000</text>
<text x="929" y="25.0" text-anchor="end" font-size="33" transform="matrix(1.04,0,0,1,-37.16,0)">80000</text>
<text x="957.0" y="573.5" text-anchor="middle" font-size="33" transform="matrix(1.04,0,0,1,-38.28,0)">0</text>
<text x="1075.2" y="573.5" text-anchor="middle" font-size="33" transform="matrix(1.04,0,0,1,-43.01,0)">20</text>
<text x="1193.4" y="573.5" text-anchor="middle" font-size="33" transform="matrix(1.04,0,0,1,-47.74,0)">40</text>
<text x="1311.7" y="573.5" text-anchor="middle" font-size="33" transform="matrix(1.04,0,0,1,-52.47,0)">60</text>
<text x="1429.9" y="573.5" text-anchor="middle" font-size="33" transform="matrix(1.04,0,0,1,-57.20,0)">80</text>
<text x="1548.1" y="573.5" text-anchor="middle" font-size="33" transform="matrix(1.04,0,0,1,-61.92,0)">100</text>
<circle cx="1024.1" cy="387.6" r="9.8" fill="#00FF00"/>
<circle cx="1046.4" cy="359.2" r="9.8" fill="#00FF00"/>
<circle cx="1067.8" cy="335.6" r="9.8" fill="#00FF00"/>
<circle cx="1104.3" cy="318.3" r="9.8" fill="#00FF00"/>
<circle cx="1184.1" cy="267.8" r="9.8" fill="#00FF00"/>
<circle cx="1411.8" cy="130.5" r="9.8" fill="#00FF00"/>
<circle cx="1024.1" cy="428.5" r="9.8" fill="#FF00FF"/>
<circle cx="1046.4" cy="404.4" r="9.8" fill="#FF00FF"/>
<circle cx="1067.8" cy="382.6" r="9.8" fill="#FF00FF"/>
<circle cx="1104.3" cy="360.3" r="9.8" fill="#FF00FF"/>
<circle cx="1184.1" cy="312.2" r="9.8" fill="#FF00FF"/>
<circle cx="1411.8" cy="181.3" r="9.8" fill="#FF00FF"/>
<circle cx="1024.1" cy="468.5" r="9.8" fill="#FFFF00"/>
<circle cx="1046.4" cy="453.2" r="9.8" fill="#FFFF00"/>
<circle cx="1067.8" cy="439.0" r="9.8" fill="#FFFF00"/>
<circle cx="1104.3" cy="416.0" r="9.8" fill="#FFFF00"/>
<circle cx="1184.1" cy="389.4" r="9.8" fill="#FFFF00"/>
<circle cx="1411.8" cy="288.1" r="9.8" fill="#FFFF00"/>
<circle cx="1024.1" cy="488.2" r="9.8" fill="#800080"/>
<circle cx="1046.4" cy="479.9" r="9.8" fill="#800080"/>
<circle cx="1067.8" cy="469.6" r="9.8" fill="#800080"/>
<circle cx="1104.3" cy="451.0" r="9.8" fill="#800080"/>
<circle cx="1184.1" cy="436.8" r="9.8" fill="#800080"/>
<circle cx="1411.8" cy="368.7" r="9.8" fill="#800080"/>
<circle cx="1024.1" cy="499.1" r="9.8" fill="#0000FF"/>
<circle cx="1046.4" cy="491.5" r="9.8" fill="#0000FF"/>
<circle cx="1067.8" cy="488.2" r="9.8" fill="#0000FF"/>
<circle cx="1104.3" cy="481.6" r="9.8" fill="#0000FF"/>
<circle cx="1184.1" cy="470.7" r="9.8" fill="#0000FF"/>
<circle cx="1411.8" cy="431.8" r="9.8" fill="#0000FF"/>
<circle cx="1024.1" cy="510.0" r="9.8" fill="#FF6600"/>
<circle cx="1046.4" cy="507.2" r="9.8" fill="#FF6600"/>
<circle cx="1067.8" cy="504.6" r="9.8" fill="#FF6600"/>
<circle cx="1104.3" cy="502.0" r="9.8" fill="#FF6600"/>
<circle cx="1184.1" cy="496.3" r="9.8" fill="#FF6600"/>
<circle cx="1411.8" cy="478.9" r="9.8" fill="#FF6600"/>
<line x1="1024.1" y1="372.7" x2="1411.8" y2="129.5" stroke="#00FFFF" stroke-width="5" stroke-linecap="round"/>
<line x1="1024.1" y1="416.7" x2="1411.8" y2="180.3" stroke="#00FFFF" stroke-width="5" stroke-linecap="round"/>
<line x1="1024.1" y1="462.6" x2="1411.8" y2="287.5" stroke="#00FFFF" stroke-width="5" stroke-linecap="round"/>
<line x1="1024.1" y1="484.9" x2="1411.8" y2="368.0" stroke="#00FFFF" stroke-width="5" stroke-linecap="round"/>
<line x1="1024.1" y1="498.5" x2="1411.8" y2="431.3" stroke="#00FFFF" stroke-width="5" stroke-linecap="round"/>
<line x1="1024.1" y1="509.0" x2="1411.8" y2="478.5" stroke="#00FFFF" stroke-width="5" stroke-linecap="round"/>
<line x1="1462.3" y1="152.2" x2="1462.3" y2="441" stroke="#FF0000" stroke-width="5.6" stroke-dasharray="22 16.9"/>
<polygon points="1462.3,456.7 1454.5,440.1 1470.1,440.1" fill="#FF0000"/>
<text x="1462" y="132.8" text-anchor="middle" font-size="34">a</text>
<text x="1463.5" y="496.5" text-anchor="middle" font-size="34">f</text>
<circle cx="1025.7" cy="80" r="37" fill="#FFFF00" stroke="#F79646" stroke-width="1"/>
<text x="1025.7" y="91.9" text-anchor="middle" font-size="33">B</text>
<text transform="translate(828,281) rotate(-90)" text-anchor="middle" font-size="34" fill="#FF0000">i<tspan font-size="22" dy="-10.5">-1</tspan><tspan dy="10.5">/A</tspan><tspan font-size="22" dy="-10.5">-1</tspan></text>
<text y="635.4" font-size="34" fill="#FF0000"><tspan x="1162">C</tspan><tspan x="1187.5" y="647.6" font-size="25" textLength="33" lengthAdjust="spacingAndGlyphs">FA</tspan><tspan x="1213.2" y="625.4" font-size="22.5">-1</tspan><tspan x="1232.2" y="635.4">(mol</tspan><tspan x="1307.8">L</tspan><tspan x="1328" y="625.4" font-size="22.5">-1</tspan><tspan x="1344.8" y="635.4">)</tspan></text>
<line x1="129.5" y1="700.5" x2="737.2" y2="700.5" stroke="#000" stroke-width="5.3"/>
<line x1="129.5" y1="1209" x2="737.2" y2="1209" stroke="#000" stroke-width="5.3"/>
<line x1="139.5" y1="697.85" x2="139.5" y2="1219" stroke="#000" stroke-width="6.0"/>
<line x1="734.2" y1="697.85" x2="734.2" y2="1219" stroke="#000" stroke-width="6.0"/>
<line x1="288.2" y1="1209" x2="288.2" y2="1219" stroke="#000" stroke-width="5.5"/>
<line x1="436.9" y1="1209" x2="436.9" y2="1219" stroke="#000" stroke-width="5.5"/>
<line x1="585.6" y1="1209" x2="585.6" y2="1219" stroke="#000" stroke-width="5.5"/>
<line x1="129.5" y1="1081.9" x2="139.5" y2="1081.9" stroke="#000" stroke-width="5.5"/>
<line x1="129.5" y1="954.8" x2="139.5" y2="954.8" stroke="#000" stroke-width="5.5"/>
<line x1="129.5" y1="827.6" x2="139.5" y2="827.6" stroke="#000" stroke-width="5.5"/>
<text x="111.5" y="1219.3" text-anchor="end" font-size="33" transform="matrix(1.04,0,0,1,-4.46,0)">0</text>
<text x="111.5" y="1092.2" text-anchor="end" font-size="33" transform="matrix(1.04,0,0,1,-4.46,0)">100</text>
<text x="111.5" y="965.0" text-anchor="end" font-size="33" transform="matrix(1.04,0,0,1,-4.46,0)">200</text>
<text x="111.5" y="837.9" text-anchor="end" font-size="33" transform="matrix(1.04,0,0,1,-4.46,0)">300</text>
<text x="111.5" y="710.8" text-anchor="end" font-size="33" transform="matrix(1.04,0,0,1,-4.46,0)">400</text>
<text x="139.5" y="1261" text-anchor="middle" font-size="33" transform="matrix(1.04,0,0,1,-5.58,0)">0.00E+00</text>
<text x="288.2" y="1261" text-anchor="middle" font-size="33" transform="matrix(1.04,0,0,1,-11.53,0)">5.00E-08</text>
<text x="436.9" y="1261" text-anchor="middle" font-size="33" transform="matrix(1.04,0,0,1,-17.48,0)">1.00E-07</text>
<text x="585.6" y="1261" text-anchor="middle" font-size="33" transform="matrix(1.04,0,0,1,-23.42,0)">1.50E-07</text>
<text x="734.3" y="1261" text-anchor="middle" font-size="33" transform="matrix(1.04,0,0,1,-29.37,0)">2.00E-07</text>
<circle cx="139.5" cy="1094.9" r="9.8" fill="#FF0000"/>
<circle cx="157.3" cy="1059.7" r="9.8" fill="#FF0000"/>
<circle cx="225.8" cy="1007.5" r="9.8" fill="#FF0000"/>
<circle cx="332.5" cy="932.7" r="9.8" fill="#FF0000"/>
<circle cx="427.2" cy="865.2" r="9.8" fill="#FF0000"/>
<circle cx="568.8" cy="762.8" r="9.8" fill="#FF0000"/>
<line x1="139.5" y1="1080.8" x2="568.8" y2="760.6" stroke="#00FFFF" stroke-width="5" stroke-linecap="round"/>
<text x="582.8" y="1117.3" text-anchor="middle" font-size="33" textLength="274" lengthAdjust="spacingAndGlyphs">y = 2E+09x + 101.1</text>
<text x="584.2" y="1156.5" text-anchor="middle" font-size="33" textLength="163.6" lengthAdjust="spacingAndGlyphs">R<tspan font-size="17" dy="-11">2</tspan><tspan dy="11"> = 0.9958</tspan></text>
<circle cx="236.5" cy="768.7" r="37" fill="#FFFF00" stroke="#F79646" stroke-width="1"/>
<text x="236.5" y="780.2" text-anchor="middle" font-size="33">C</text>
<text transform="translate(42.8,949.4) rotate(-90)" text-anchor="middle" font-size="34" fill="#FF0000">Slope</text>
<text x="458.1" y="1314.8" text-anchor="middle" font-size="33.5" fill="#FF0000">Exp(-nFE/RT)</text>
<line x1="941.8" y1="690.6" x2="1577.3" y2="690.6" stroke="#000" stroke-width="5.3"/>
<line x1="941.8" y1="1206.8" x2="1577.3" y2="1206.8" stroke="#000" stroke-width="5.3"/>
<line x1="951.8" y1="687.95" x2="951.8" y2="1216.8" stroke="#000" stroke-width="6.0"/>
<line x1="1574.3" y1="687.95" x2="1574.3" y2="1216.8" stroke="#000" stroke-width="6.0"/>
<line x1="1107.4" y1="1206.8" x2="1107.4" y2="1216.8" stroke="#000" stroke-width="5.5"/>
<line x1="1263.0" y1="1206.8" x2="1263.0" y2="1216.8" stroke="#000" stroke-width="5.5"/>
<line x1="1418.7" y1="1206.8" x2="1418.7" y2="1216.8" stroke="#000" stroke-width="5.5"/>
<line x1="941.8" y1="1133.1" x2="951.8" y2="1133.1" stroke="#000" stroke-width="5.5"/>
<line x1="941.8" y1="1059.3" x2="951.8" y2="1059.3" stroke="#000" stroke-width="5.5"/>
<line x1="941.8" y1="985.6" x2="951.8" y2="985.6" stroke="#000" stroke-width="5.5"/>
<line x1="941.8" y1="911.8" x2="951.8" y2="911.8" stroke="#000" stroke-width="5.5"/>
<line x1="941.8" y1="838.1" x2="951.8" y2="838.1" stroke="#000" stroke-width="5.5"/>
<line x1="941.8" y1="764.3" x2="951.8" y2="764.3" stroke="#000" stroke-width="5.5"/>
<text x="924" y="1217.1" text-anchor="end" font-size="33" transform="matrix(1.04,0,0,1,-36.96,0)">-1</text>
<text x="924" y="1143.4" text-anchor="end" font-size="33" transform="matrix(1.04,0,0,1,-36.96,0)">1</text>
<text x="924" y="1069.6" text-anchor="end" font-size="33" transform="matrix(1.04,0,0,1,-36.96,0)">3</text>
<text x="924" y="995.9" text-anchor="end" font-size="33" transform="matrix(1.04,0,0,1,-36.96,0)">5</text>
<text x="924" y="922.1" text-anchor="end" font-size="33" transform="matrix(1.04,0,0,1,-36.96,0)">7</text>
<text x="924" y="848.4" text-anchor="end" font-size="33" transform="matrix(1.04,0,0,1,-36.96,0)">9</text>
<text x="924" y="774.6" text-anchor="end" font-size="33" transform="matrix(1.04,0,0,1,-36.96,0)">11</text>
<text x="924" y="700.9" text-anchor="end" font-size="33" transform="matrix(1.04,0,0,1,-36.96,0)">13</text>
<text x="951.8" y="1255.4" text-anchor="middle" font-size="33" transform="matrix(1.04,0,0,1,-38.07,0)">0.3</text>
<text x="1107.4" y="1255.4" text-anchor="middle" font-size="33" transform="matrix(1.04,0,0,1,-44.30,0)">0.4</text>
<text x="1263.0" y="1255.4" text-anchor="middle" font-size="33" transform="matrix(1.04,0,0,1,-50.52,0)">0.5</text>
<text x="1418.7" y="1255.4" text-anchor="middle" font-size="33" transform="matrix(1.04,0,0,1,-56.75,0)">0.6</text>
<text x="1574.3" y="1255.4" text-anchor="middle" font-size="33" transform="matrix(1.04,0,0,1,-62.97,0)">0.7</text>
<circle cx="1114.3" cy="822.6" r="9.8" fill="#FF0000"/>
<circle cx="1129.8" cy="827.6" r="9.8" fill="#FF0000"/>
<circle cx="1145.6" cy="836.9" r="9.8" fill="#FF0000"/>
<circle cx="1177.5" cy="848.2" r="9.8" fill="#FF0000"/>
<circle cx="1240.9" cy="866" r="9.8" fill="#FF0000"/>
<circle cx="1398.3" cy="909.7" r="9.8" fill="#FF0000"/>
<line x1="1114.3" y1="826.6" x2="1398.3" y2="910.6" stroke="#00FFFF" stroke-width="5" stroke-linecap="round"/>
<text x="1349.6" y="1155.3" text-anchor="middle" font-size="32">y = -12.593x + 10.416</text>
<text x="1349.8" y="1193.7" text-anchor="middle" font-size="32" textLength="121.5" lengthAdjust="spacingAndGlyphs">R<tspan font-size="16.5" dy="-10.5">2</tspan><tspan dy="10.5"> = 0.99</tspan></text>
<circle cx="1342.8" cy="770.2" r="37" fill="#FFFF00" stroke="#F79646" stroke-width="1"/>
<text x="1342.8" y="782.1" text-anchor="middle" font-size="33">D</text>
<text transform="translate(880.7,940) rotate(-90)" text-anchor="middle" font-size="33" fill="#FF0000">Ln (intercept)</text>
<text x="1261.1" y="1304" text-anchor="middle" font-size="33.5" fill="#FF0000">E/V</text>
</svg></body></html>
